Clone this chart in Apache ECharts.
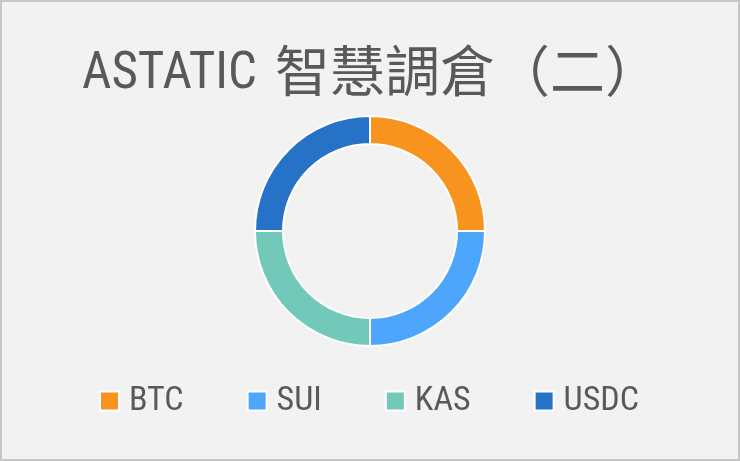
<!DOCTYPE html>
<html>
<head>
<meta charset="utf-8">
<script src="https://cdn.jsdelivr.net/npm/echarts@6/dist/echarts.min.js"></script>
<style>
html,body{margin:0;padding:0;background:#f2f2f2;}
#main{width:740px;height:461px;}
</style>
</head>
<body>
<div id="main"></div>
<script>
var coins = ['BTC', 'SUI', 'KAS', 'USDC'];
var shares = [25, 25, 25, 25];
var colors = ['#f7931e', '#4ea6fc', '#72c9ba', '#2672c6'];
var titleLatin = 'ASTATIC';
var titleCjk = '智慧調倉（二）';

var myChart = echarts.init(document.getElementById('main'));

var option = {
    backgroundColor: '#f2f2f2',
    color: colors,
    graphic: [{
        type: 'rect',
        silent: true,
        shape: { x: 1, y: 1, width: 738, height: 459 },
        style: { fill: 'none', stroke: '#c6c6c6', lineWidth: 2 }
    }],
    title: [{
        left: 77,
        top: 40,
        text: titleLatin,
        textStyle: {
            color: '#595959',
            fontSize: 51,
            fontWeight: 'normal',
            fontFamily: 'Roboto Condensed',
            lineHeight: 60
        }
    }, {
        left: 270,
        top: 35,
        text: titleCjk,
        textStyle: {
            color: '#595959',
            fontSize: 55,
            fontWeight: 'normal',
            fontFamily: 'Noto Sans CJK TC',
            lineHeight: 60
        }
    }],
    legend: {
        top: 379,
        left: 94,
        itemWidth: 19,
        itemHeight: 19,
        itemGap: 63,
        icon: 'rect',
        data: coins,
        textStyle: {
            color: '#595959',
            fontSize: 34,
            lineHeight: 34,
            padding: [0, 0, 0, 5],
            fontFamily: 'Roboto Condensed'
        }
    },
    series: [{
        type: 'pie',
        center: [370, 231],
        radius: [87, 115],
        label: { show: false },
        labelLine: { show: false },
        silent: true,
        itemStyle: {
            borderColor: '#ffffff',
            borderWidth: 2
        },
        data: coins.map(function (c, i) {
            return { name: c, value: shares[i] };
        })
    }]
};

myChart.setOption(option);
window.onresize = function () {
    myChart.resize();
};
</script>
</body>
</html>
